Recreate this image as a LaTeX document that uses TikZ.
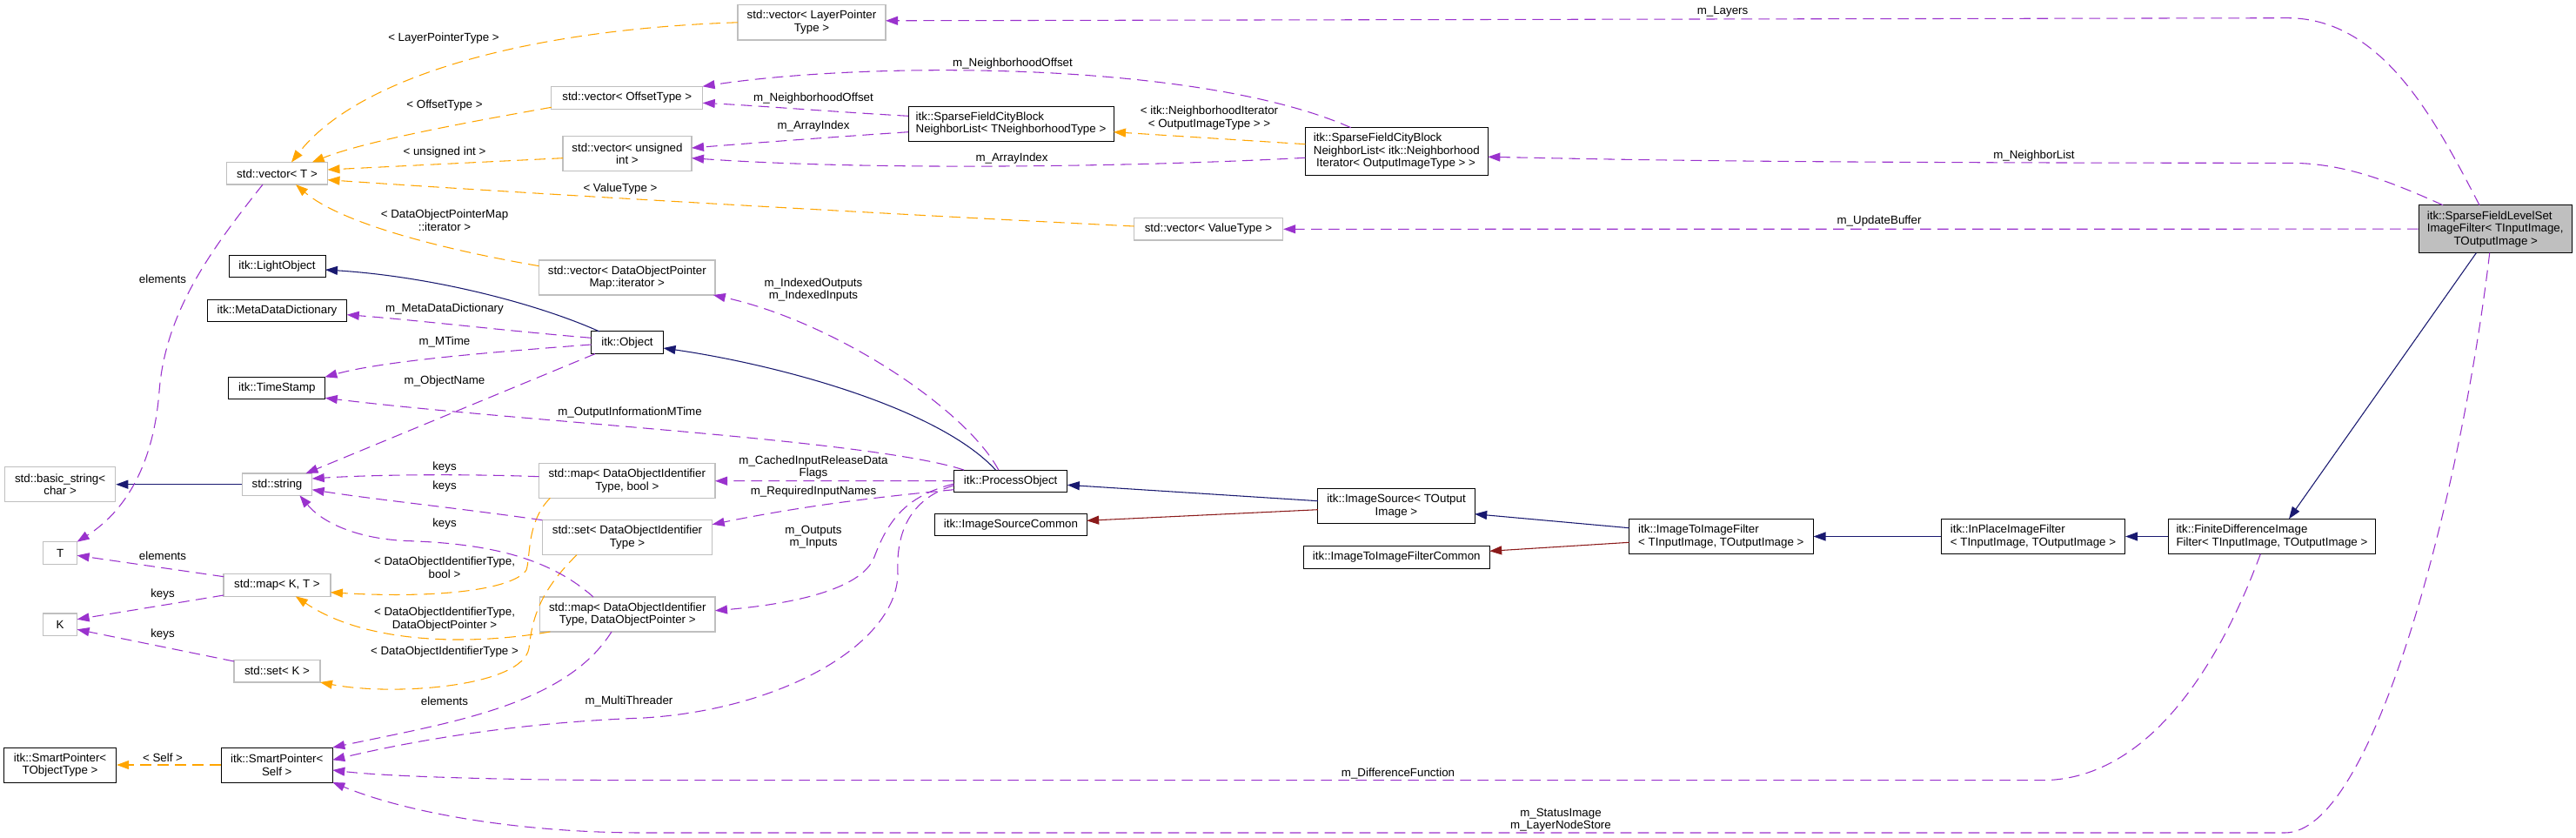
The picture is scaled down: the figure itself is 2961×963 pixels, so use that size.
\documentclass[tikz,border=0pt]{standalone}
\usepackage{fontspec}
\setmainfont{Liberation Sans}
\usetikzlibrary{arrows.meta,calc}
\definecolor{usecol}{HTML}{9A32CD}
\definecolor{tplcol}{HTML}{FFA500}
\definecolor{inhcol}{HTML}{191970}
\definecolor{privcol}{HTML}{8B1A1A}
\definecolor{undoccol}{HTML}{BFBFBF}
\begin{document}
\begin{tikzpicture}[x=0.75pt,y=-0.75pt,
  font=\fontsize{10}{10.9}\selectfont,
  sz/.style 2 args={minimum width=#1*0.75pt,minimum height=#2*0.75pt},
  box/.style={draw=black,line width=0.75pt,fill=white,inner sep=0pt,align=center},
  ubox/.style={draw=undoccol,line width=1pt,fill=white,inner sep=0pt,align=center},
  lbox/.style={box,align=left},
  lbl/.style={inner sep=0pt,align=center},
  tip/.style={-{Triangle[length=10.5pt,width=7.5pt]}},
  usedge/.style={draw=usecol,line width=0.8pt,dash pattern=on 9.5pt off 5.5pt,tip},
  tpledge/.style={draw=tplcol,line width=0.8pt,dash pattern=on 9.5pt off 5.5pt,tip},
  inhedge/.style={draw=inhcol,line width=0.8pt,tip},
  privedge/.style={draw=privcol,line width=0.8pt,tip}]
\fill[white] (0,0) rectangle (2961,963);
\useasboundingbox (0,0) rectangle (2961,963);

% ---------- nodes ----------
\node[ubox,sz={170}{40.3}] (vecLayer) at (933,25.8) {std::vector< LayerPointer\\Type >};
\node[ubox,sz={116}{25.5}] (vecT) at (318.5,199.3) {std::vector< T >};
\node[ubox,sz={174}{26}] (vecOffset) at (720.7,112.3) {std::vector< OffsetType >};
\node[ubox,sz={148}{40.4}] (vecUInt) at (721,176.5) {std::vector< unsigned\\int >};
\node[lbox,sz={236}{40.3}] (cbnlT) at (1162,142.2) {itk::SparseFieldCityBlock\\NeighborList< TNeighborhoodType >};
\node[lbox,sz={210}{54.7}] (cbnlNI) at (1605.3,174) {itk::SparseFieldCityBlock\\NeighborList< itk::Neighborhood\\\hspace*{2.5pt}Iterator< OutputImageType > >};
\node[ubox,sz={171}{25.3}] (vecValue) at (1389,263.3) {std::vector< ValueType >};
\node[lbox,fill=undoccol,sz={176}{55}] (sfls) at (2868.2,263.2) {itk::SparseFieldLevelSet\\ImageFilter< TInputImage,\\\hspace*{23pt}TOutputImage >};
\node[ubox,sz={202.4}{40}] (vecIter) at (720.8,319) {std::vector< DataObjectPointer\\Map::iterator >};
\node[box,sz={111}{25.3}] (lightObj) at (318.5,305.7) {itk::LightObject};
\node[box,sz={160.5}{25.3}] (mdd) at (318.5,356.7) {itk::MetaDataDictionary};
\node[box,sz={83}{25.7}] (obj) at (721,393.8) {itk::Object};
\node[box,sz={111}{25.3}] (timeStamp) at (318.4,446) {itk::TimeStamp};
\node[ubox,sz={127}{40}] (basicStr) at (69.1,556.7) {std::basic\_string<\\char >};
\node[ubox,sz={80.3}{25.3}] (str) at (318.5,556.7) {std::string};
\node[ubox,sz={39}{25.6}] (Tn) at (69.1,635.5) {T};
\node[ubox,sz={202.4}{40}] (mapBool) at (720.8,552.3) {std::map< DataObjectIdentifier\\Type, bool >};
\node[ubox,sz={195.3}{40}] (setDOI) at (721,617.7) {std::set< DataObjectIdentifier\\Type >};
\node[ubox,sz={122.7}{26}] (mapKT) at (318.5,672.3) {std::map< K, T >};
\node[ubox,sz={39}{25.7}] (Kn) at (69.1,717.8) {K};
\node[ubox,sz={99}{25.7}] (setK) at (318.5,771.2) {std::set< K >};
\node[ubox,sz={201.5}{40}] (mapPtr) at (721.3,706) {std::map< DataObjectIdentifier\\Type, DataObjectPointer >};
\node[box,sz={129}{40}] (spT) at (69.1,879) {itk::SmartPointer<\\TObjectType >};
\node[box,sz={128}{40}] (spSelf) at (318.3,879) {itk::SmartPointer<\\Self >};
\node[box,sz={130.3}{25.3}] (procObj) at (1161.7,552.7) {itk::ProcessObject};
\node[box,sz={174.5}{25.3}] (isCommon) at (1161.9,603.3) {itk::ImageSourceCommon};
\node[box,sz={180.3}{40.3}] (imgSrc) at (1605,581.8) {itk::ImageSource< TOutput\\Image >};
\node[lbox,sz={211.4}{40.4}] (i2i) at (1978.3,616.5) {itk::ImageToImageFilter\\< TInputImage, TOutputImage >};
\node[box,sz={213.8}{25.6}] (i2iCommon) at (1605.3,640.5) {itk::ImageToImageFilterCommon};
\node[lbox,sz={211.2}{40.4}] (inPlace) at (2337,616.5) {itk::InPlaceImageFilter\\< TInputImage, TOutputImage >};
\node[lbox,sz={238.7}{40.4}] (fdif) at (2611.4,616.5) {itk::FiniteDifferenceImage\\Filter< TInputImage, TOutputImage >};

% ---------- template instance edges ----------
\draw[tpledge] ($(vecLayer)+(-85,0)$) .. controls (600,34) and (410,90) .. ($(vecT)+(16.5,-12.8)$);
\draw[tpledge] ($(vecOffset)+(-86.9,11)$) .. controls (540,140) and (420,162) .. ($(vecT)+(40.2,-12.8)$);
\draw[tpledge] ($(vecUInt)+(-74,5.2)$) -- ($(vecT)+(58,-4.3)$);
\draw[tpledge] ($(vecValue)+(-85.5,-3.3)$) .. controls (1000,245) and (600,222) .. ($(vecT)+(58,7.4)$);
\draw[tpledge] ($(vecIter)+(-101.2,-13.3)$) .. controls (500,285) and (390,255) .. ($(vecT)+(21.5,12.8)$);
\draw[tpledge] ($(mapBool)+(-88.4,20)$) .. controls (605,600) and (610,640) .. (605,655) .. controls (590,678) and (500,688) .. ($(mapKT)+(61.4,8.4)$);
\draw[tpledge] ($(mapPtr)+(-88.9,20)$) .. controls (540,742) and (420,740) .. ($(mapKT)+(21.3,13)$);
\draw[tpledge] ($(setDOI)+(-58,20)$) .. controls (620,680) and (612,710) .. (608,745) .. controls (600,790) and (450,800) .. ($(setK)+(49.5,12.8)$);
\draw[tpledge] (spSelf.west) -- (spT.east);
\draw[tpledge] ($(cbnlNI)+(-104.9,-8.3)$) -- ($(cbnlT)+(118,9.5)$);

% ---------- inheritance edges ----------
\draw[inhedge] ($(obj)+(-32,-12.85)$) .. controls (620,350) and (500,318) .. ($(lightObj)+(55.5,4.3)$);
\draw[inhedge] ($(procObj)+(-17.3,-12.65)$) .. controls (1080,470) and (900,420) .. ($(obj)+(41.5,6.2)$);
\draw[inhedge] (str.west) -- (basicStr.east);
\draw[inhedge] ($(imgSrc)+(-90.15,-6.1)$) -- ($(procObj)+(65.15,4.6)$);
\draw[privedge] ($(imgSrc)+(-90.15,3.9)$) -- ($(isCommon)+(87.25,-5)$);
\draw[inhedge] ($(i2i)+(-105.7,-9.8)$) -- ($(imgSrc)+(90.15,8.9)$);
\draw[privedge] ($(i2i)+(-105.7,6.8)$) -- ($(i2iCommon)+(106.9,-7.2)$);
\draw[inhedge] (inPlace.west) -- (i2i.east);
\draw[inhedge] (fdif.west) -- (inPlace.east);
\draw[inhedge] ($(sfls)+(-21.9,27.5)$) -- ($(fdif)+(19.6,-20.2)$);

% ---------- usage edges ----------
\draw[usedge] ($(vecT)+(-16.5,12.8)$) .. controls (240,290) and (190,360) .. (183,450) .. controls (176,540) and (140,590) .. ($(Tn)+(19.5,-12.8)$);
\draw[usedge] ($(obj)+(-41.5,-5.5)$) .. controls (580,380) and (480,368) .. ($(mdd)+(80.25,5)$);
\draw[usedge] ($(obj)+(-41.5,2.2)$) .. controls (560,405) and (440,415) .. ($(timeStamp)+(55,-12.7)$);
\draw[usedge] ($(obj)+(-37,12.85)$) -- ($(str)+(33,-12.65)$);
\draw[usedge] ($(procObj)+(-13.9,-12.65)$) .. controls (1110,470) and (960,370) .. ($(vecIter)+(99,20)$);
\draw[usedge] ($(procObj)+(-53.7,-12.65)$) .. controls (1000,505) and (600,485) .. ($(timeStamp)+(55.4,11.3)$);
\draw[usedge] (procObj.west) -- ($(mapBool)+(101.2,0.4)$);
\draw[usedge] ($(procObj)+(-65.2,10)$) .. controls (1000,572) and (920,582) .. ($(setDOI)+(97.7,-15)$);
\draw[usedge] ($(procObj)+(-65.2,3.3)$) .. controls (1040,570) and (1020,600) .. (1005,640) .. controls (990,680) and (900,695) .. ($(mapPtr)+(100.7,-4.3)$);
\draw[usedge] ($(procObj)+(-65.2,5)$) .. controls (1040,575) and (1030,620) .. (1032,660) .. controls (1030,740) and (900,815) .. (740,825) .. controls (600,830) and (480,850) .. ($(spSelf)+(64,-5.7)$);
\draw[usedge] ($(mapPtr)+(-18.3,20)$) .. controls (650,810) and (520,830) .. ($(spSelf)+(64,-20)$);
\draw[usedge] ($(mapBool)+(-101.2,-4.6)$) .. controls (520,544) and (420,546) .. ($(str)+(40.2,-6.7)$);
\draw[usedge] ($(setDOI)+(-97.6,-20)$) .. controls (520,583) and (430,574) .. ($(str)+(40.2,6)$);
\draw[usedge] ($(mapPtr)+(-39.3,-20)$) .. controls (630,640) and (560,625) .. (472,621.7) .. controls (410,620) and (370,600) .. ($(str)+(26,12.65)$);
\draw[usedge] ($(mapKT)+(-61.35,-9.6)$) -- ($(Tn)+(19.5,2.8)$);
\draw[usedge] ($(mapKT)+(-61.35,11.7)$) -- ($(Kn)+(19.5,-6.1)$);
\draw[usedge] ($(setK)+(-49.5,-11.2)$) -- ($(Kn)+(19.5,5.5)$);
\draw[usedge] ($(sfls)+(-18.2,-27.5)$) .. controls (2800,140) and (2740,22) .. (2631,20.7) -- ($(vecLayer)+(85,-2)$);
\draw[usedge] ($(sfls)+(-60.2,-27.5)$) .. controls (2740,205) and (2690,187.3) .. (2631,187.3) .. controls (2000,187.3) and (1850,183) .. ($(cbnlNI)+(105,6.3)$);
\draw[usedge] (sfls.west) -- (vecValue.east);
\draw[usedge] ($(fdif)+(-13.1,20.2)$) .. controls (2560,740) and (2480,896.7) .. (2346.6,896.7) -- (740,896.7) .. controls (600,896.7) and (450,893) .. ($(spSelf)+(64,6)$);
\draw[usedge] ($(sfls)+(-6.5,27.5)$) .. controls (2830,560) and (2730,957) .. (2626.3,957) -- (740,957) .. controls (600,957) and (470,935) .. ($(spSelf)+(64,20)$);
\draw[usedge] ($(cbnlNI)+(-52.6,-27.35)$) .. controls (1380,70) and (1000,70) .. ($(vecOffset)+(86.9,-13)$);
\draw[usedge] ($(cbnlT)+(-118,-8.9)$) .. controls (950,128) and (880,122) .. ($(vecOffset)+(87,6)$);
\draw[usedge] ($(cbnlT)+(-118,9.5)$) .. controls (950,158) and (870,164) .. ($(vecUInt)+(74,-6.5)$);
\draw[usedge] ($(cbnlNI)+(-104.9,7.3)$) .. controls (1300,192) and (1000,196) .. ($(vecUInt)+(74,5.2)$);

% ---------- edge labels ----------
\node[lbl] (l1) at (510,44) {< LayerPointerType >};
\node[lbl] (l2) at (511,121) {< OffsetType >};
\node[lbl] (l3) at (511,175) {< unsigned int >};
\node[lbl] (l4) at (713,217) {< ValueType >};
\node[lbl] (l5) at (511,253) {< DataObjectPointerMap\\::iterator >};
\node[lbl] (l6) at (187,321) {elements};
\node[lbl] (l7) at (511,355) {m\_MetaDataDictionary};
\node[lbl] (l8) at (511,393) {m\_MTime};
\node[lbl] (l9) at (511,438) {m\_ObjectName};
\node[lbl] (l10) at (724,474) {m\_OutputInformationMTime};
\node[lbl] (l11) at (511,537) {keys};
\node[lbl] (l12) at (511,559) {keys};
\node[lbl] (l13) at (511,602) {keys};
\node[lbl] (l14) at (511,652) {< DataObjectIdentifierType,\\bool >};
\node[lbl] (l15) at (511,711.5) {< DataObjectIdentifierType,\\DataObjectPointer >};
\node[lbl] (l16) at (511,749) {< DataObjectIdentifierType >};
\node[lbl] (l17) at (511,806) {elements};
\node[lbl] (l18) at (723,806) {m\_MultiThreader};
\node[lbl] (l19) at (187,639) {elements};
\node[lbl] (l20) at (187,683) {keys};
\node[lbl] (l21) at (187,729) {keys};
\node[lbl] (l22) at (187,871) {< Self >};
\node[lbl] (l23) at (1164,73) {m\_NeighborhoodOffset};
\node[lbl] (l24) at (935,113) {m\_NeighborhoodOffset};
\node[lbl] (l25) at (935,145) {m\_ArrayIndex};
\node[lbl] (l26) at (1163,182) {m\_ArrayIndex};
\node[lbl] (l27) at (1390,135.5) {< itk::NeighborhoodIterator\\< OutputImageType > >};
\node[lbl] (l28) at (935,333) {m\_IndexedOutputs\\m\_IndexedInputs};
\node[lbl] (l29) at (935,537) {m\_CachedInputReleaseData\\Flags};
\node[lbl] (l30) at (935,565) {m\_RequiredInputNames};
\node[lbl] (l31) at (935,617) {m\_Outputs\\m\_Inputs};
\node[lbl] (l32) at (1980,13) {m\_Layers};
\node[lbl] (l33) at (2338,179) {m\_NeighborList};
\node[lbl] (l34) at (2160,254) {m\_UpdateBuffer};
\node[lbl] (l35) at (1607,889) {m\_DifferenceFunction};
\node[lbl] (l36) at (1794,942) {m\_StatusImage\\m\_LayerNodeStore};
\end{tikzpicture}
\end{document}
